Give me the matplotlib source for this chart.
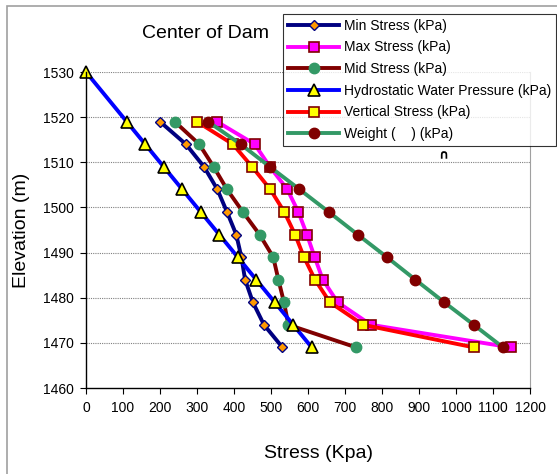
import matplotlib
matplotlib.use("Agg")
import matplotlib.pyplot as plt
from matplotlib.patches import Rectangle

plt.rcParams['font.family'] = ['Liberation Sans', 'DejaVu Sans']

# elevations of the computed points (m)
elevation = [1519, 1514, 1509, 1504, 1499, 1494, 1489, 1484, 1479, 1474, 1469]

# stresses along the dam centre line (kPa)
min_stress = [200, 270, 319, 355, 381, 406, 420, 430, 451, 481, 531]
max_stress = [354, 456, 497, 544, 574, 597, 618, 640, 680, 770, 1148]
mid_stress = [240, 306, 345, 381, 424, 469, 506, 520, 535, 547, 730]
vert_stress = [300, 397, 449, 498, 536, 565, 589, 619, 659, 749, 1048]
weight = [330, 418, 497, 577, 656, 734, 813, 890, 968, 1048, 1127]

# hydrostatic pressure starts at the reservoir level
hydro_elev = [1530] + elevation
hydro = [0, 110, 160, 210, 260, 310, 360, 410, 460, 510, 560, 610]

NAVY = '#000080'
DARKRED = '#800000'
SEAGREEN = '#339966'

fig = plt.figure(figsize=(5.57, 4.74), dpi=100)
ax = fig.add_axes([86 / 557, 1 - 388 / 474, 444 / 557, 316 / 474])

lw = 2.8
ax.plot(min_stress, elevation, color=NAVY, lw=lw, marker='D', ms=5,
        mfc='#FF9900', mec=NAVY, mew=1.0, label='Min Stress (kPa)', clip_on=False)
ax.plot(max_stress, elevation, color='#FF00FF', lw=lw, marker='s', ms=7.5,
        mfc='#FF00FF', mec=DARKRED, mew=1.2, label='Max Stress (kPa)', clip_on=False)
ax.plot(mid_stress, elevation, color=DARKRED, lw=lw, marker='o', ms=7.5,
        mfc=SEAGREEN, mec=SEAGREEN, label='Mid Stress (kPa)', clip_on=False)
ax.plot(hydro, hydro_elev, color='#0000FF', lw=lw, marker='^', ms=8,
        mfc='#FFFF00', mec='black', mew=1.2,
        label='Hydrostatic Water Pressure (kPa)', clip_on=False)
ax.plot(vert_stress, elevation, color='#FF0000', lw=lw, marker='s', ms=7.5,
        mfc='#FFFF00', mec=DARKRED, mew=1.2, label='Vertical Stress (kPa)', clip_on=False)
ax.plot(weight, elevation, color=SEAGREEN, lw=lw, marker='o', ms=7.5,
        mfc=DARKRED, mec=DARKRED, label='Weight (    ) (kPa)', clip_on=False)

ax.set_xlim(0, 1200)
ax.set_ylim(1460, 1530)
ax.set_xticks(range(0, 1201, 100))
ax.set_yticks(range(1460, 1531, 10))
ax.tick_params(labelsize=10, direction='out', length=4, width=0.8, pad=5)

for y in range(1470, 1531, 10):
    ax.axhline(y, color='#808080', lw=0.8, ls=(0, (1, 1)), zorder=0)

ax.spines['top'].set_visible(False)
ax.spines['right'].set_color('#A0A0A0')
ax.spines['left'].set_linewidth(1.0)
ax.spines['bottom'].set_linewidth(1.0)

fig.text(205 / 557, 1 - 33 / 474, 'Center of Dam', fontsize=14,
         ha='center', va='center')
fig.text(318 / 557, 1 - 453 / 474, 'Stress (Kpa)', fontsize=14,
         ha='center', va='center')
fig.text(22 / 557, 1 - 230 / 474, 'Elevation (m)', fontsize=14,
         ha='center', va='center', rotation=90)
fig.text(443 / 557, 1 - 156 / 474, '\u2229', fontsize=9, fontweight='bold',
         ha='center', va='center', family='DejaVu Sans')

leg = fig.legend(loc='upper left', bbox_to_anchor=(283 / 557, 1 - 14 / 474),
                 fontsize=10, frameon=True, fancybox=False, handlelength=3.7,
                 handletextpad=0.35, labelspacing=0.55, borderpad=0.35,
                 borderaxespad=0)
leg.get_frame().set_edgecolor('black')
leg.get_frame().set_linewidth(0.8)
leg.set_zorder(10)

# outer chart border
fig.patches.append(Rectangle((7 / 557, -0.05), 1.2, 1 - 6 / 474 + 0.05,
                             transform=fig.transFigure, fill=False,
                             edgecolor='#A0A0A0', lw=1.2, zorder=0))

fig.savefig('out.png', dpi=100)
